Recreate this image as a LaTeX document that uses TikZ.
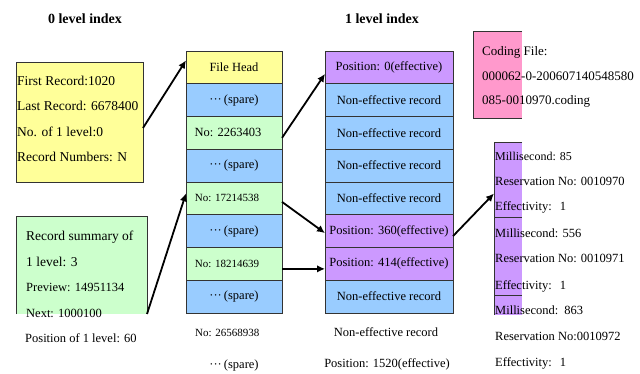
\documentclass[tikz,border=0pt]{standalone}
\usepackage{fontspec}
\setmainfont{Liberation Serif}
\usetikzlibrary{arrows.meta}
\definecolor{yelc}{HTML}{FFFF99}
\definecolor{grnc}{HTML}{CCFFCC}
\definecolor{bluc}{HTML}{99CCFF}
\definecolor{purc}{HTML}{CC99FF}
\definecolor{pnkc}{HTML}{FF99CC}
\definecolor{edgec}{HTML}{333333}
\begin{document}
\begin{tikzpicture}[x=1pt,y=-1pt,
  midrow/.style={draw=edgec, line width=0.8pt, minimum width=96pt, minimum height=32.75pt, inner sep=0pt, outer sep=0pt, font=\fontsize{12.5}{15}\selectfont},
  rgtrow/.style={draw=edgec, line width=0.8pt, minimum width=128pt, minimum height=32.75pt, inner sep=0pt, outer sep=0pt, font=\fontsize{12.5}{15}\selectfont},
  fillbox/.style={inner sep=0pt, outer sep=0pt, draw=none},
  edge/.style={draw=edgec, line width=0.8pt},
  txt/.style={anchor=west, inner sep=0pt, text height=8pt, text depth=0pt, font=\fontsize{12.5}{15}\selectfont},
  ctxt/.style={inner sep=0pt, text height=8pt, text depth=0pt, font=\fontsize{12.5}{15}\selectfont},
  ttl/.style={inner sep=0pt, font=\bfseries\fontsize{14}{16}\selectfont},
  arr/.style={line width=1.8pt, -{Latex[length=8pt,width=7.5pt]}},
  small/.style={font=\fontsize{11}{13}\selectfont}
]
\useasboundingbox (0,0) rectangle (640,374);
\fill[white] (0,0) rectangle (640,374);

% titles
\node[ttl] (t0) at (85,19) {0 level index};
\node[ttl] (t1) at (382,19) {1 level index};

% level 0 yellow box
\node[fillbox, fill=yelc, draw=edgec, line width=0.8pt, minimum width=127pt, minimum height=120pt] (zero) at (79.5,122) {};
\node[txt, font=\fontsize{13.5}{15}\selectfont] (y1) at (17,82) {First Record:1020};
\node[txt, font=\fontsize{13.5}{15}\selectfont] (y2) at (17,107) {Last Record: 6678400};
\node[txt, font=\fontsize{13.5}{15}\selectfont] (y3) at (17,133) {No. of 1 level:0};
\node[txt, font=\fontsize{13.5}{15}\selectfont] (y4) at (17,158) {Record Numbers: N};

% green summary box (clipped at bottom)
\node[fillbox, fill=grnc, minimum width=131pt, minimum height=98pt] (grn) at (81.5,265) {};
\draw[edge] (grn.south west) -- (grn.north west) -- (grn.north east) -- (grn.south east);
\node[txt, font=\fontsize{13.5}{15}\selectfont] (g1) at (26,237) {Record summary of};
\node[txt, font=\fontsize{13.5}{15}\selectfont] (g2) at (26,262) {1 level: 3};
\node[txt] (g3) at (26,287) {Preview: 14951134};
\node[txt] (g4) at (26,313) {Next: 1000100};
\node[txt] (g5) at (25,338) {Position of 1 level: 60};

% middle column
\node[midrow, fill=yelc] (r1) at (234,67.375) {File Head};
\node[midrow, fill=bluc] (r2) at (234,100.125) {···\,(spare)};
\node[midrow, fill=grnc] (r3) at (234,132.875) {No: 2263403\hspace*{12pt}};
\node[midrow, fill=bluc] (r4) at (234,165.625) {···\,(spare)};
\node[midrow, fill=grnc, small] (r5) at (234,198.375) {No: 17214538\hspace*{14pt}};
\node[midrow, fill=bluc] (r6) at (234,231.125) {···\,(spare)};
\node[midrow, fill=grnc, small] (r7) at (234,263.875) {No: 18214639\hspace*{14pt}};
\node[midrow, fill=bluc] (r8) at (234,296.625) {···\,(spare)};
\node[txt, small] (r9) at (195,332) {No: 26568938};
\node[ctxt] (r10) at (234,364) {···\,(spare)};

% right column
\node[rgtrow, fill=purc] (p1) at (389,67.375) {Position: 0(effective)};
\node[rgtrow, fill=bluc] (p2) at (389,100.125) {Non-effective record};
\node[rgtrow, fill=bluc] (p3) at (389,132.875) {Non-effective record};
\node[rgtrow, fill=bluc] (p4) at (389,165.625) {Non-effective record};
\node[rgtrow, fill=bluc] (p5) at (389,198.375) {Non-effective record};
\node[rgtrow, fill=purc] (p6) at (389,231.125) {Position: 360(effective)};
\node[rgtrow, fill=purc] (p7) at (389,263.875) {Position: 414(effective)};
\node[rgtrow, fill=bluc] (p8) at (389,296.625) {Non-effective record};
\node[ctxt] (p9) at (386,332) {Non-effective record};
\node[ctxt] (p10) at (387,363) {Position: 1520(effective)};

% coding file box (clipped at right)
\node[fillbox, fill=pnkc, minimum width=49pt, minimum height=87pt] (cod) at (497.5,74.5) {};
\draw[edge] (cod.north east) -- (cod.north west) -- (cod.south west) -- (cod.south east);
\node[txt, font=\fontsize{13}{15}\selectfont] (c1) at (482,52) {Coding File:};
\node[txt, font=\fontsize{13}{15}\selectfont] (c2) at (482,77) {000062-0-200607140548580};
\node[txt, font=\fontsize{13}{15}\selectfont] (c3) at (482,101) {085-0010970.coding};

% millisecond boxes (clipped at right)
\node[fillbox, fill=purc, minimum width=28pt, minimum height=75pt] (ms1) at (508,179.5) {};
\node[fillbox, fill=purc, minimum width=28pt, minimum height=78pt] (ms2) at (508,256) {};
\node[fillbox, fill=purc, minimum width=28pt, minimum height=20pt] (ms3) at (508,305) {};
\draw[edge] (ms1.north east) -- (ms1.north west) -- (ms3.south west);
\draw[edge] (ms2.north west) -- (ms2.north east);
\draw[edge] (ms3.north west) -- (ms3.north east);
\node[txt, font=\fontsize{12}{15}\selectfont] (m1) at (495,157) {Millisecond: 85};
\node[txt] (m2) at (495,182) {Reservation No: 0010970};
\node[txt] (m3) at (495,207) {Effectivity:\hspace{8pt}1};
\node[txt, font=\fontsize{12.5}{15}\selectfont] (m4) at (495,233) {Millisecond: 556};
\node[txt] (m5) at (495,258) {Reservation No: 0010971};
\node[txt] (m6) at (495,285) {Effectivity:\hspace{8pt}1};
\node[txt, font=\fontsize{12.5}{15}\selectfont] (m7) at (495,310) {Millisecond:\hspace{6pt}863};
\node[txt] (m8) at (495,336) {Reservation No:0010972};
\node[txt] (m9) at (495,362) {Effectivity:\hspace{8pt}1};

% arrows
\draw[arr] ([yshift=-6pt]zero.east) -- ([yshift=7pt]r1.west);
\draw[arr] (grn.south east) -- ([yshift=5pt]r5.west);
\draw[arr] ([yshift=-5pt]r3.east) -- ([yshift=-6.5pt]p1.west);
\draw[arr] ([yshift=-3.5pt]r5.east) -- ([yshift=-2pt]p6.west);
\draw[arr] ([yshift=-5pt]r7.east) -- ([yshift=-5pt]p7.west);
\draw[arr] ([yshift=-5pt]p6.east) -- ([yshift=-14pt]ms1.west);
\end{tikzpicture}
\end{document}
